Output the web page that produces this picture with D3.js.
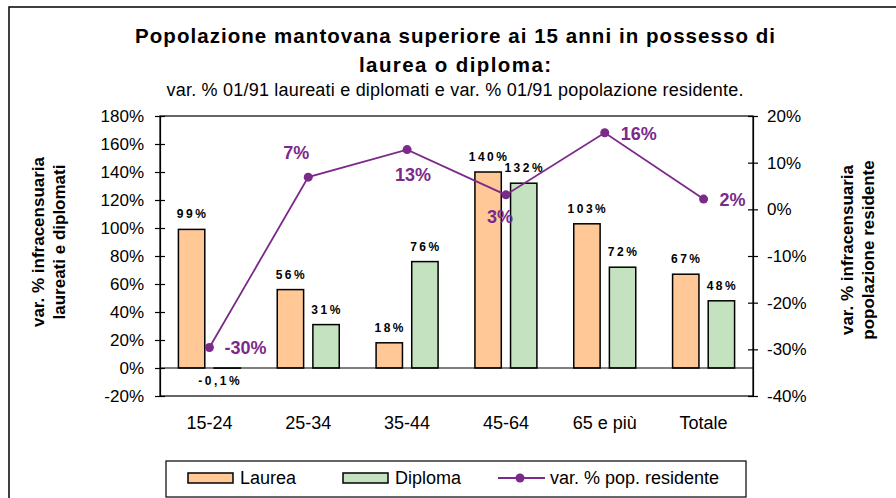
<!DOCTYPE html>
<html>
<head>
<meta charset="utf-8">
<script src="https://cdn.jsdelivr.net/npm/d3@7.9.0/dist/d3.min.js"></script>
<style>
  body { margin: 0; background: #fff; }
  svg { display: block; font-family: "Liberation Sans", Arial, Helvetica, sans-serif; }
</style>
</head>
<body>
<svg width="896" height="498"></svg>
<script>
// data
const categories = ['15-24', '25-34', '35-44', '45-64', '65 e più', 'Totale'];
const laurea = [99, 56, 18, 140, 103, 67];
const diploma = [-0.1, 31, 76, 132, 72, 48];
const popResidente = [-29.6, 6.9, 12.8, 3.1, 16.4, 2.2];
const leftTicks = [-20, 0, 20, 40, 60, 80, 100, 120, 140, 160, 180];
const rightTicks = [-40, -30, -20, -10, 0, 10, 20];

// where each line label sits relative to its point: [anchor, dx, dy]
const lineLabelPos = [['start', 15, 7], ['middle', -12, -18], ['middle', 6, 31],
                      ['middle', -6, 28], ['start', 16, 7], ['start', 16, 7]];

const colLaurea = '#ffc896';
const colDiploma = '#c4e2bf';
const colPurple = '#7b2a8a';

const svg = d3.select('svg');
const plot = { left: 160, right: 753, top: 116, bottom: 396 };

// outer chart border (runs off the picture on the right and bottom)
svg.append('rect')
  .attr('x', 9).attr('y', 7).attr('width', 920).attr('height', 520)
  .attr('fill', 'none').attr('stroke', '#000').attr('stroke-width', 1.5);

// titles (Excel spreads these a bit wider than the font does)
svg.append('text')
  .attr('x', 455).attr('y', 43)
  .attr('text-anchor', 'middle').attr('font-size', 20.5).attr('font-weight', 'bold')
  .attr('textLength', 640).attr('lengthAdjust', 'spacing')
  .text('Popolazione mantovana superiore ai 15 anni in possesso di');
svg.append('text')
  .attr('x', 455).attr('y', 72)
  .attr('text-anchor', 'middle').attr('font-size', 20.5).attr('font-weight', 'bold')
  .attr('textLength', 192).attr('lengthAdjust', 'spacing')
  .text('laurea o diploma:');
svg.append('text')
  .attr('x', 455).attr('y', 96)
  .attr('text-anchor', 'middle').attr('font-size', 18)
  .attr('textLength', 577).attr('lengthAdjust', 'spacing')
  .text('var. % 01/91 laureati e diplomati e var. % 01/91 popolazione residente.');

// scales
let x = d3.scaleBand().domain(categories).range([plot.left, plot.right]);
let xSub = d3.scaleBand().domain(['Laurea', 'Diploma'])
  .range([x.bandwidth() / 2 - 31, x.bandwidth() / 2 + 31]).paddingInner(0.26);
let yL = d3.scaleLinear().domain([-20, 180]).range([plot.bottom, plot.top]);
let yR = d3.scaleLinear().domain([-40, 20]).range([plot.bottom, plot.top]);

// plot area frame
svg.append('rect')
  .attr('x', plot.left).attr('y', plot.top)
  .attr('width', plot.right - plot.left).attr('height', plot.bottom - plot.top)
  .attr('fill', 'none').attr('stroke', '#000').attr('stroke-width', 1.2);

// bars
let seriesData = [
  { name: 'Laurea', values: laurea, color: colLaurea },
  { name: 'Diploma', values: diploma, color: colDiploma }
];
let fmt = (v) => (Number.isInteger(v) ? String(v) : String(v).replace('.', ',')) + '%';

seriesData.forEach((s) => {
  let g = svg.append('g');
  g.selectAll('rect')
    .data(s.values)
    .join('rect')
    .attr('x', (d, i) => x(categories[i]) + xSub(s.name))
    .attr('width', xSub.bandwidth())
    .attr('y', (d) => yL(Math.max(d, 0)))
    .attr('height', (d) => Math.abs(yL(d) - yL(0)))
    .attr('fill', s.color)
    .attr('stroke', '#000')
    .attr('stroke-width', 1.5);

  g.selectAll('text')
    .data(s.values)
    .join('text')
    // the negative label is pushed left of its bar, as in the original
    .attr('x', (d, i) => x(categories[i]) + xSub(s.name) + xSub.bandwidth() / 2 + (d < 0 ? -7 : 1))
    .attr('y', (d) => d >= 0 ? yL(d) - 11 : yL(0) + 17)
    .attr('text-anchor', 'middle')
    .attr('font-size', 12).attr('font-weight', 'bold')
    .attr('letter-spacing', 2.5)
    .text((d) => fmt(d));
});

// zero line
svg.append('line')
  .attr('x1', plot.left).attr('x2', plot.right)
  .attr('y1', yL(0)).attr('y2', yL(0))
  .attr('stroke', '#000').attr('stroke-width', 1.2);

// axes
let axL = svg.append('g')
  .attr('transform', `translate(${plot.left},0)`)
  .call(d3.axisLeft(yL).tickValues(leftTicks).tickFormat((d) => d + '%').tickSizeOuter(0).tickSize(5).tickPadding(11));
let axR = svg.append('g')
  .attr('transform', `translate(${plot.right},0)`)
  .call(d3.axisRight(yR).tickValues(rightTicks).tickFormat((d) => d + '%').tickSizeOuter(0).tickSize(5).tickPadding(9));
[axL, axR].forEach((ax) => {
  ax.select('.domain').attr('stroke-width', 1.2);
  ax.selectAll('.tick line').attr('x1', -5).attr('x2', 5).attr('stroke-width', 1.2);
  ax.selectAll('.tick text').attr('font-size', 17).attr('fill', '#000')
    .attr('font-family', '"Liberation Sans", Arial, sans-serif');
});

// category labels
svg.append('g')
  .selectAll('text')
  .data(categories)
  .join('text')
  .attr('x', (d) => x(d) + x.bandwidth() / 2)
  .attr('y', 429)
  .attr('text-anchor', 'middle')
  .attr('font-size', 18)
  .text((d) => d);

// line series on the right axis
let line = d3.line()
  .x((d, i) => x(categories[i]) + x.bandwidth() / 2)
  .y((d) => yR(d));

svg.append('path')
  .datum(popResidente)
  .attr('d', line)
  .attr('fill', 'none')
  .attr('stroke', colPurple)
  .attr('stroke-width', 1.8);

svg.append('g')
  .selectAll('circle')
  .data(popResidente)
  .join('circle')
  .attr('cx', (d, i) => x(categories[i]) + x.bandwidth() / 2)
  .attr('cy', (d) => yR(d))
  .attr('r', 4.5)
  .attr('fill', colPurple);

svg.append('g')
  .selectAll('text')
  .data(popResidente)
  .join('text')
  .attr('x', (d, i) => x(categories[i]) + x.bandwidth() / 2 + lineLabelPos[i][1])
  .attr('y', (d, i) => yR(d) + lineLabelPos[i][2])
  .attr('text-anchor', (d, i) => lineLabelPos[i][0])
  .attr('font-size', 18).attr('font-weight', 'bold')
  .attr('fill', colPurple)
  .text((d) => Math.round(d) + '%');

// axis titles
let leftTitle = svg.append('text')
  .attr('transform', 'translate(44,242) rotate(-90)')
  .attr('text-anchor', 'middle').attr('font-size', 17).attr('font-weight', 'bold');
leftTitle.append('tspan').attr('x', 0).attr('y', 0).text('var. % infracensuaria');
leftTitle.append('tspan').attr('x', 0).attr('y', 21).text('laureati e diplomati');

let rightTitle = svg.append('text')
  .attr('transform', 'translate(853,250) rotate(-90)')
  .attr('text-anchor', 'middle').attr('font-size', 17).attr('font-weight', 'bold');
rightTitle.append('tspan').attr('x', 0).attr('y', 0).text('var. % infracensuaria');
rightTitle.append('tspan').attr('x', 0).attr('y', 21).text('popolazione residente');

// legend
let legend = svg.append('g');
legend.append('rect')
  .attr('x', 166).attr('y', 461).attr('width', 580).attr('height', 36)
  .attr('fill', '#fff').attr('stroke', '#000').attr('stroke-width', 1.2);

seriesData.forEach((s, i) => {
  let lx = i === 0 ? 188 : 343;
  legend.append('rect')
    .attr('x', lx).attr('y', 473).attr('width', 45).attr('height', 10)
    .attr('fill', s.color).attr('stroke', '#000').attr('stroke-width', 1.5);
  legend.append('text')
    .attr('x', lx + 52).attr('y', 484)
    .attr('font-size', 18)
    .text(s.name);
});
legend.append('line')
  .attr('x1', 498).attr('x2', 545).attr('y1', 478).attr('y2', 478)
  .attr('stroke', colPurple).attr('stroke-width', 1.8);
legend.append('circle')
  .attr('cx', 520).attr('cy', 478).attr('r', 4.5).attr('fill', colPurple);
legend.append('text')
  .attr('x', 550).attr('y', 484)
  .attr('font-size', 18)
  .text('var. % pop. residente');
</script>
</body>
</html>
